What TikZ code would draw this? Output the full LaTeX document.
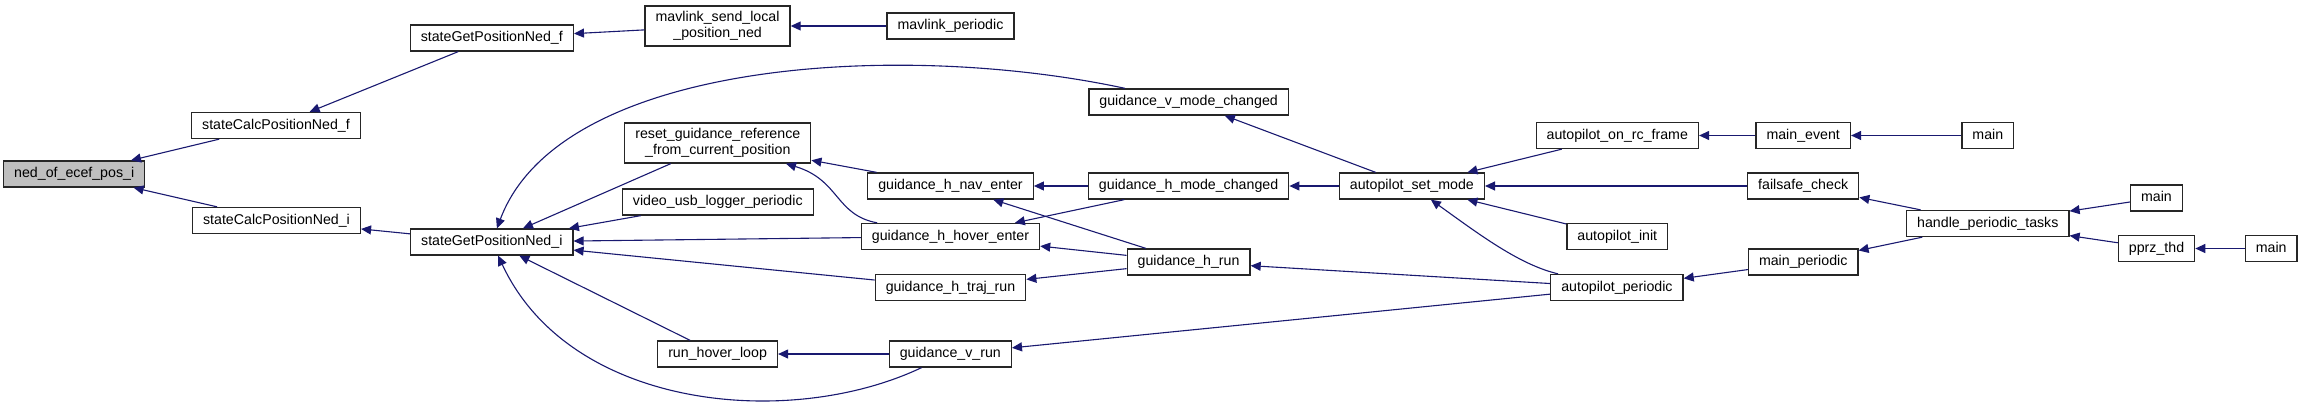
\documentclass[tikz,border=0pt]{standalone}
\usepackage{fontspec}
\newfontfamily\doxfont{Liberation Sans}
\usetikzlibrary{arrows.meta}
\definecolor{edgeblue}{HTML}{191970}
\definecolor{rootgray}{HTML}{BFBFBF}
\tikzset{fn/.style={rectangle,draw=black!85,line width=1.3pt,fill=white,align=center,inner xsep=10.5pt,inner ysep=0pt,minimum height=26pt,text height=10.5pt,text depth=3.5pt,font=\doxfont\fontsize{14.2}{16.5}\selectfont},root/.style={fn,fill=rootgray},twoline/.style={text height={},text depth={},minimum height=40pt},call/.style={{Triangle[length=10pt,width=9pt]}-,draw=edgeblue,line width=1.1pt}}

\begin{document}
\begin{tikzpicture}[x=1pt,y=-1pt]
\useasboundingbox[fill=white] (0,0) rectangle (2304,405);
\node[root] (ned) at (74.2,174) {ned\_of\_ecef\_pos\_i};
\node[fn] (calcf) at (276,125.5) {stateCalcPositionNed\_f};
\node[fn] (calci) at (276.5,220.5) {stateCalcPositionNed\_i};
\node[fn] (getf) at (491.8,38) {stateGetPositionNed\_f};
\node[fn] (geti) at (491.8,242) {stateGetPositionNed\_i};
\node[fn,twoline] (mlsend) at (717.6,26) {mavlink\_send\_local\\\_position\_ned};
\node[fn] (mlper) at (950.5,26) {mavlink\_periodic};
\node[fn] (gvmode) at (1188.6,102) {guidance\_v\_mode\_changed};
\node[fn,twoline] (reset) at (717.8,143) {reset\_guidance\_reference\\\_from\_current\_position};
\node[fn] (video) at (717.8,202) {video\_usb\_logger\_periodic};
\node[fn] (hnav) at (950.5,186) {guidance\_h\_nav\_enter};
\node[fn] (hhover) at (950.5,236.5) {guidance\_h\_hover\_enter};
\node[fn] (htraj) at (950.5,287.5) {guidance\_h\_traj\_run};
\node[fn] (hoverloop) at (717.6,354) {run\_hover\_loop};
\node[fn] (vrun) at (950.3,354) {guidance\_v\_run};
\node[fn] (hmode) at (1188.6,186) {guidance\_h\_mode\_changed};
\node[fn] (hrun) at (1188.6,262) {guidance\_h\_run};
\node[fn] (setmode) at (1411.9,186) {autopilot\_set\_mode};
\node[fn] (rcframe) at (1617.3,135.5) {autopilot\_on\_rc\_frame};
\node[fn] (apinit) at (1617.3,236.5) {autopilot\_init};
\node[fn] (apper) at (1616.9,287.5) {autopilot\_periodic};
\node[fn] (mevent) at (1803.2,135.5) {main\_event};
\node[fn] (maina) at (1987.8,135.5) {main};
\node[fn] (fscheck) at (1803.2,186) {failsafe\_check};
\node[fn] (mper) at (1803.2,262) {main\_periodic};
\node[fn] (tasks) at (1987.8,223.5) {handle\_periodic\_tasks};
\node[fn] (mainb) at (2156.4,198) {main};
\node[fn] (pprz) at (2156.5,248.5) {pprz\_thd};
\node[fn] (mainc) at (2271.2,248.5) {main};
% callers, arrow at the callee
\draw[call] (ned) -- (calcf);
\draw[call] (ned) -- (calci);
\draw[call] (calcf) -- (getf);
\draw[call] (calci) -- (geti);
\draw[call] (getf) -- (mlsend);
\draw[call] (mlsend) -- (mlper);
\draw[call] (geti) .. controls (560,60) and (900,40) .. (gvmode);
\draw[call] (geti) -- (reset);
\draw[call] (geti) -- (video);
\draw[call] (geti) -- (hhover);
\draw[call] (geti) -- (htraj);
\draw[call] (geti) -- (hoverloop);
\draw[call] (geti) .. controls (570,410) and (790,430) .. (vrun);
\draw[call] (reset) -- (hnav);
\draw[call] (reset) .. controls (840,180) and (835,215) .. (hhover);
\draw[call] (hnav) -- (hmode);
\draw[call] (hnav) -- (hrun);
\draw[call] (hhover) -- (hmode);
\draw[call] (hhover) -- (hrun);
\draw[call] (htraj) -- (hrun);
\draw[call] (hoverloop) -- (vrun);
\draw[call] (gvmode) -- (setmode);
\draw[call] (hmode) -- (setmode);
\draw[call] (hrun) -- (apper);
\draw[call] (vrun) -- (apper);
\draw[call] (setmode) -- (rcframe);
\draw[call] (setmode) -- (fscheck);
\draw[call] (setmode) -- (apinit);
\draw[call] (setmode) .. controls (1480,235) and (1520,265) .. (apper);
\draw[call] (rcframe) -- (mevent);
\draw[call] (mevent) -- (maina);
\draw[call] (fscheck) -- (tasks);
\draw[call] (apper) -- (mper);
\draw[call] (mper) -- (tasks);
\draw[call] (tasks) -- (mainb);
\draw[call] (tasks) -- (pprz);
\draw[call] (pprz) -- (mainc);
\end{tikzpicture}
\end{document}
